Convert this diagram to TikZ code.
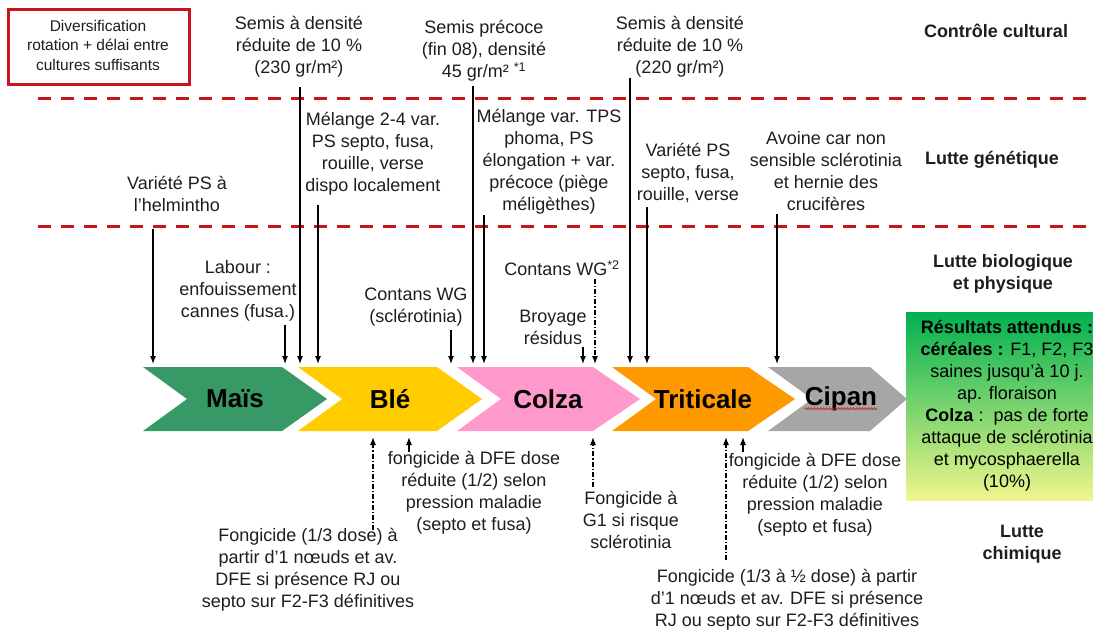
\documentclass[tikz,border=0pt]{standalone}
\usepackage{fontspec}
\setmainfont{Liberation Sans}
\usetikzlibrary{arrows.meta,decorations.pathmorphing}
\definecolor{txtc}{RGB}{30,30,30}
\definecolor{redc}{RGB}{200,20,30}
\definecolor{maisc}{RGB}{54,153,102}
\definecolor{blec}{RGB}{255,204,0}
\definecolor{colzac}{RGB}{255,153,204}
\definecolor{tritc}{RGB}{255,153,0}
\definecolor{cipanc}{RGB}{166,166,166}
\definecolor{gtop}{RGB}{0,176,80}
\definecolor{gbot}{RGB}{240,246,140}
\newcommand{\fsA}{\fontsize{18}{22}\selectfont}
\newcommand{\fsB}{\fontsize{15.5}{19.5}\selectfont}
\newcommand{\fsC}{\fontsize{26}{30}\selectfont\bfseries}
\tikzset{
  txt/.style={font=\fsA, align=center, inner sep=0pt, text=txtc},
  boxtxt/.style={font=\fsB, align=center, inner sep=0pt, text=txtc},
  sidelab/.style={font=\fsA\bfseries, align=center, inner sep=0pt, text=txtc},
  chevlab/.style={font=\fsC, inner sep=0pt, text=black},
  arr/.style={-{Latex[length=8pt,width=6pt]}, line width=1.1pt, draw=black},
  arrdd/.style={arr, dash pattern=on 5pt off 2pt on 1.2pt off 2pt},
  reddash/.style={draw=redc, line width=3pt, dash pattern=on 12.5pt off 10.5pt},
}
\begin{document}
\begin{tikzpicture}[x=1pt,y=-1pt]
\useasboundingbox (0,0) rectangle (1093,630);
\fill[white] (0,0) rectangle (1093,630);

% red box and dashed separators
\draw[redc, line width=3pt] (8,9) rectangle (189,84);
\node[boxtxt] (divers) at (98,45) {Diversification\\rotation + délai entre\\cultures suffisants};
\coordinate (d1a) at (38,98);  \coordinate (d1b) at (1093,98);
\coordinate (d2a) at (38,226); \coordinate (d2b) at (1093,226);
\draw[reddash] (d1a) -- (d1b);
\draw[reddash] (d2a) -- (d2b);

% side labels
\node[sidelab] (lcc) at (996,31) {Contrôle cultural};
\node[sidelab] (lgen) at (992,160) {Lutte génétique};
\node[sidelab] (lbio) at (1003,274) {Lutte biologique\\et physique};
\node[sidelab] (lchim) at (1022,544) {Lutte\\chimique};

% chevrons
\fill[maisc]  (143,367) -- (282,367) -- (327,399) -- (282,431) -- (143,431) -- (187,399) -- cycle;
\fill[blec]   (298,367) -- (437,367) -- (482,399) -- (437,431) -- (298,431) -- (342,399) -- cycle;
\fill[colzac] (457,367) -- (593,367) -- (640,399) -- (593,431) -- (457,431) -- (501,399) -- cycle;
\fill[tritc]  (612,367) -- (748,367) -- (795,399) -- (748,431) -- (612,431) -- (656,399) -- cycle;
\fill[cipanc] (768,367) -- (870,367) -- (907,399) -- (870,431) -- (768,431) -- (812,399) -- cycle;
\node[chevlab] (mais) at (235,399) {Maïs};
\node[chevlab] (ble) at (390,399) {Blé};
\node[chevlab] (colza) at (548,399) {Colza};
\node[chevlab] (trit) at (703,399) {Triticale};
\node[chevlab] (cipan) at (841,399) {Cipan};
\draw[redc, line width=0.6pt, decorate, decoration={snake, amplitude=1pt, segment length=3pt}]
  ([yshift=-3pt]cipan.base west) -- ([yshift=-3pt]cipan.base east);

% results box
\shade[top color=gtop, bottom color=gbot] (906,312) rectangle (1093,500);
\node[txt, text=black] (res) at (1007,406) {\textbf{Résultats attendus :}\\\textbf{céréales :} F1, F2, F3\\saines jusqu'à 10 j.\\ap. floraison\\\textbf{Colza} :\ \ pas de forte\\attaque de sclérotinia\\et mycosphaerella\\(10\%)};

% top texts
\node[txt] (s230) at (299,47) {Semis à densité\\réduite de 10 \%\\(230 gr/m²)};
\node[txt] (sprec) at (484,51) {Semis précoce\\(fin 08), densité\\45 gr/m² \textsuperscript{*1}};
\node[txt] (s220) at (680,47) {Semis à densité\\réduite de 10 \%\\(220 gr/m²)};
\node[txt] (mel24) at (373,154) {Mélange 2-4 var.\\PS septo, fusa,\\rouille, verse\\dispo localement};
\node[txt] (meltps) at (549,162) {Mélange var. TPS\\phoma, PS\\élongation + var.\\précoce (piège\\méligèthes)};
\node[txt] (vps) at (688,173) {Variété PS\\septo, fusa,\\rouille, verse};
\node[txt] (avoine) at (826,171) {Avoine car non\\sensible sclérotinia\\et hernie des\\crucifères};
\node[txt] (helm) at (177,194) {Variété PS à\\l'helmintho};
\node[txt] (labour) at (238,291) {Labour :\\enfouissement\\cannes (fusa.)};
\node[txt] (contans) at (416,307) {Contans WG\\(sclérotinia)};
\node[txt] (cwg2) at (562,268) {Contans WG\textsuperscript{*2}};
\node[txt] (broy) at (553,327) {Broyage\\résidus};

% bottom texts
\node[txt] (fdfe1) at (474,493) {fongicide à DFE dose\\réduite (1/2) selon\\pression maladie\\(septo et fusa)};
\node[txt] (f13) at (308,570) {Fongicide (1/3 dose) à\\partir d'1 nœuds et av.\\DFE si présence RJ ou\\septo sur F2-F3 définitives};
\node[txt] (fg1) at (631,520) {Fongicide à\\G1 si risque\\sclérotinia};
\node[txt] (fdfe2) at (815,495) {fongicide à DFE dose\\réduite (1/2) selon\\pression maladie\\(septo et fusa)};
\node[txt] (f1312) at (787,600) {Fongicide (1/3 à ½ dose) à partir\\d'1 nœuds et av. DFE si présence\\RJ ou septo sur F2-F3 définitives};

% arrow reference levels
\coordinate (top) at (0,364);
\coordinate (bot) at (0,437);

% down arrows
\coordinate (a1) at (153,229);
\coordinate (a2) at (285,325);
\coordinate (a3) at (300,87);
\coordinate (a4) at (318,205);
\coordinate (a5) at (451,330);
\coordinate (a6) at (473,86);
\coordinate (a7) at (484,215);
\coordinate (a8) at (583,347);
\coordinate (a9) at (595,279);
\coordinate (a10) at (630,78);
\coordinate (a11) at (647,207);
\coordinate (a12) at (777,214);
\draw[arr] (a1) -- (a1 |- top);
\draw[arr] (a2) -- (a2 |- top);
\draw[arr] (a3) -- (a3 |- top);
\draw[arr] (a4) -- (a4 |- top);
\draw[arr] (a5) -- (a5 |- top);
\draw[arr] (a6) -- (a6 |- top);
\draw[arr] (a7) -- (a7 |- top);
\draw[arr] (a8) -- (a8 |- top);
\draw[arrdd] (a9) -- (a9 |- top);
\draw[arr] (a10) -- (a10 |- top);
\draw[arr] (a11) -- (a11 |- top);
\draw[arr] (a12) -- (a12 |- top);

% up arrows
\coordinate (b1) at (373,530);
\coordinate (b2) at (409,452);
\coordinate (b3) at (593,487);
\coordinate (b4) at (726,560);
\coordinate (b5) at (743,452);
\draw[arrdd] (b1) -- (b1 |- bot);
\draw[arr] (b2) -- (b2 |- bot);
\draw[arrdd] (b3) -- (b3 |- bot);
\draw[arrdd] (b4) -- (b4 |- bot);
\draw[arr] (b5) -- (b5 |- bot);
\end{tikzpicture}
\end{document}
